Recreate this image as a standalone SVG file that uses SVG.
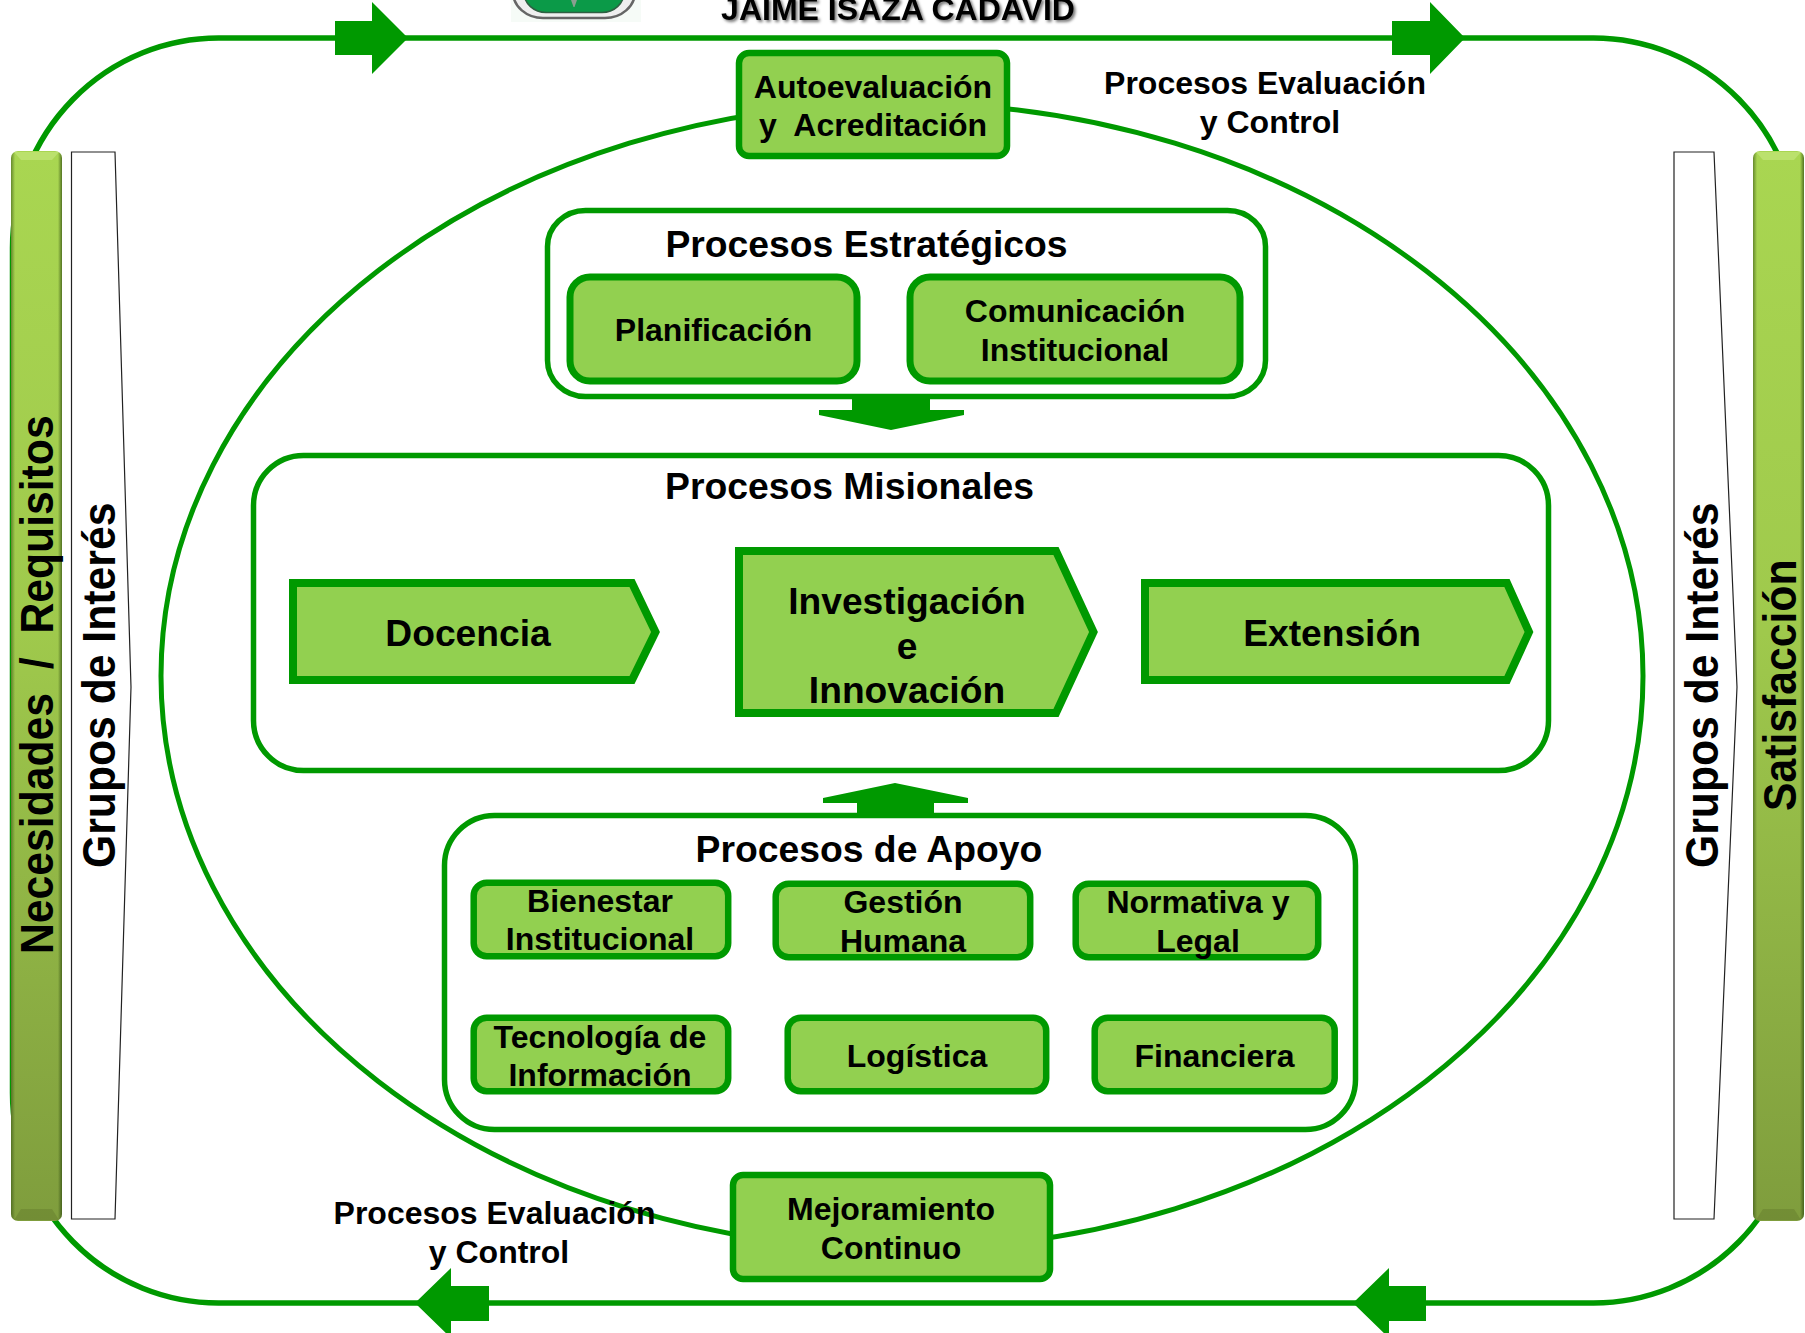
<svg xmlns="http://www.w3.org/2000/svg" width="1805" height="1333" viewBox="0 0 1805 1333">
<style>
text{font-family:"Liberation Sans",Arial,sans-serif;font-weight:bold;fill:#000;text-anchor:middle}
.t32{font-size:32px}
.t37{font-size:37.300px}
.t38{font-size:37.200px}
.t42{font-size:42.700px;text-anchor:start}
.loop{fill:none;stroke:#009900;stroke-width:5.500px}
.arrow{fill:#009900;stroke:none}
.frame{fill:#fff;stroke:#009900;stroke-width:5.500px}
.box{fill:#92D050;stroke:#009900;stroke-width:6.500px}
.thick{fill:#92D050;stroke:#009900;stroke-width:7px}
.penta{fill:#92D050;stroke:#009900;stroke-width:8;stroke-linejoin:miter}
.band{fill:#fff;stroke:#222;stroke-width:1.200px}
</style>
<defs>
<linearGradient id="barV" x1="0" y1="0" x2="0" y2="1">
<stop offset="0" stop-color="#A9D651"/>
<stop offset="0.45" stop-color="#9FC94C"/>
<stop offset="1" stop-color="#7F9D3D"/>
</linearGradient>
<linearGradient id="barEdge" x1="0" y1="0" x2="1" y2="0">
<stop offset="0" stop-color="#2f4a10" stop-opacity="0.55"/>
<stop offset="0.08" stop-color="#2f4a10" stop-opacity="0"/>
<stop offset="0.92" stop-color="#2f4a10" stop-opacity="0"/>
<stop offset="1" stop-color="#2f4a10" stop-opacity="0.7"/>
</linearGradient>
<filter id="soft" x="-5%" y="-30%" width="110%" height="170%">
<feDropShadow dx="2" dy="2" stdDeviation="1.5" flood-color="#000" flood-opacity="0.55"/>
</filter>
</defs>
<rect width="1805" height="1333" fill="#fff"/>

<g id="logo">
<rect x="511" y="-10" width="130" height="32" fill="#f6fbf7"/>
<rect x="513" y="-40" width="122" height="58" rx="30" ry="26" fill="#efefef" stroke="#666" stroke-width="2.500"/>
<rect x="524" y="-40" width="100" height="52.500" rx="22" ry="20" fill="#0b9a48" stroke="#2f5f42" stroke-width="1.500"/>
<polygon points="571,0 577,0 574.500,7 573.500,7" fill="#8a9f90"/>
</g>
<text id="title" class="t32" x="898" y="20" filter="url(#soft)">JAIME ISAZA CADAVID</text>

<g id="connectors">
<rect class="loop" x="12.500" y="38" width="1787" height="1265" rx="206" ry="210"/>
<ellipse class="loop" cx="902" cy="676" rx="741" ry="573" style="stroke-width:5"/>
<polygon class="arrow" points="335,21 372,21 372,2 408,38 372,74 372,55 335,55" id="arrow-top-left"/>
<polygon class="arrow" points="1392,21 1430,21 1430,2 1465,38 1430,74 1430,55 1392,55" id="arrow-top-right"/>
<polygon class="arrow" points="489,1286 451,1286 451,1268 415,1303 451,1338 451,1321 489,1321" id="arrow-bottom-left"/>
<polygon class="arrow" points="1426,1286 1389,1286 1389,1268 1353,1303 1389,1338 1389,1321 1426,1321" id="arrow-bottom-right"/>
</g>

<g id="necesidades">
<rect x="11" y="151" width="51" height="1070" rx="7" fill="url(#barV)"/>
<rect x="11" y="151" width="51" height="1070" rx="7" fill="url(#barEdge)"/>
<polygon points="14,152 59,152 52,160 21,160" fill="#BFE374" opacity="0.8"/>
<polygon points="14,1220 59,1220 52,1209 21,1209" fill="#6F8A33" opacity="0.8"/>
<text class="t42" xml:space="preserve" transform="translate(53,954) rotate(-90) scale(1,1.08)">Necesidades  /  Requisitos</text>
</g>
<g id="grupos-izq">
<polygon class="band" points="71.500,152 115,152 131,687 115,1219 71.500,1219"/>
<text class="t42" transform="translate(115,868) rotate(-90) scale(1,1.08)">Grupos de Interés</text>
</g>
<g id="satisfaccion">
<rect x="1753" y="151" width="51" height="1070" rx="7" fill="url(#barV)"/>
<rect x="1753" y="151" width="51" height="1070" rx="7" fill="url(#barEdge)"/>
<polygon points="1756,152 1801,152 1794,160 1763,160" fill="#BFE374" opacity="0.8"/>
<polygon points="1756,1220 1801,1220 1794,1209 1763,1209" fill="#6F8A33" opacity="0.8"/>
<text class="t42" transform="translate(1796,811) rotate(-90) scale(1,1.08)">Satisfacción</text>
</g>
<g id="grupos-der">
<polygon class="band" points="1674,152 1714,152 1737,687 1714,1219 1674,1219"/>
<text class="t42" transform="translate(1718,868) rotate(-90) scale(1,1.08)">Grupos de Interés</text>
</g>

<g id="autoevaluacion">
<rect class="box" x="739" y="53" width="268" height="103" rx="10"/>
<text class="t32" x="873" y="98">Autoevaluación</text>
<text class="t32" x="873" y="136" xml:space="preserve">y  Acreditación</text>
</g>
<text id="eval-top-1" class="t32" x="1265" y="94">Procesos Evaluación</text>
<text id="eval-top-2" class="t32" x="1270" y="133">y Control</text>

<g id="estrategicos">
<rect class="frame" x="547.500" y="210.500" width="718" height="186" rx="38" ry="36"/>
<text class="t37" x="866.500" y="257">Procesos Estratégicos</text>
</g>
<g id="planificacion">
<rect class="thick" x="570" y="277" width="287" height="104" rx="20"/>
<text class="t32" x="713.500" y="341">Planificación</text>
</g>
<g id="comunicacion">
<rect class="thick" x="910" y="277" width="330" height="104" rx="20"/>
<text class="t32" x="1075" y="322">Comunicación</text>
<text class="t32" x="1075" y="361">Institucional</text>
</g>
<polygon id="arrow-down" class="arrow" points="852,394 930,394 930,410 964,410 964,415 891,430 819,415 819,410 852,410"/>

<g id="misionales">
<rect class="frame" x="253.500" y="455.500" width="1295" height="315" rx="50" ry="50"/>
<text class="t37" x="849.500" y="499">Procesos Misionales</text>
</g>
<g id="docencia">
<polygon class="penta" points="293,583 632,583 655.500,632 632,680 293,680"/>
<text class="t38" x="468" y="646">Docencia</text>
</g>
<g id="investigacion">
<polygon class="penta" points="739,551 1056,551 1093.500,632 1056,713 739,713"/>
<text class="t38" x="907" y="614">Investigación</text>
<text class="t38" x="907" y="659">e</text>
<text class="t38" x="907" y="703">Innovación</text>
</g>
<g id="extension">
<polygon class="penta" points="1145,583 1507,583 1529,632 1507,680 1145,680"/>
<text class="t38" x="1332" y="646">Extensión</text>
</g>
<polygon id="arrow-up" class="arrow" points="857,818 934,818 934,803 968,803 968,798 895,783 823,798 823,803 857,803"/>

<g id="apoyo">
<rect class="frame" x="444.500" y="815.500" width="911" height="314" rx="50" ry="50"/>
<text class="t37" x="869" y="862">Procesos de Apoyo</text>
</g>
<g id="bienestar">
<rect class="box" x="473.700" y="882.700" width="254.500" height="73.500" rx="13"/>
<text class="t32" x="600" y="912">Bienestar</text>
<text class="t32" x="600" y="950">Institucional</text>
</g>
<g id="gestion">
<rect class="box" x="775.700" y="883.700" width="254.500" height="73.500" rx="13"/>
<text class="t32" x="903" y="913">Gestión</text>
<text class="t32" x="903" y="952">Humana</text>
</g>
<g id="normativa">
<rect class="box" x="1075.700" y="883.700" width="242.500" height="73.500" rx="13"/>
<text class="t32" x="1198" y="913">Normativa y</text>
<text class="t32" x="1198" y="952">Legal</text>
</g>
<g id="tecnologia">
<rect class="box" x="473.700" y="1017.700" width="254.500" height="73.500" rx="13"/>
<text class="t32" x="600" y="1048">Tecnología de</text>
<text class="t32" x="600" y="1086">Información</text>
</g>
<g id="logistica">
<rect class="box" x="787.700" y="1017.700" width="258.500" height="73.500" rx="13"/>
<text class="t32" x="917" y="1067">Logística</text>
</g>
<g id="financiera">
<rect class="box" x="1094.700" y="1017.700" width="240" height="73.500" rx="13"/>
<text class="t32" x="1214.500" y="1067">Financiera</text>
</g>
<g id="mejoramiento">
<rect class="box" x="733" y="1175" width="317" height="104" rx="10"/>
<text class="t32" x="891" y="1220">Mejoramiento</text>
<text class="t32" x="891" y="1259">Continuo</text>
</g>
<text id="eval-bottom-1" class="t32" x="494.500" y="1224">Procesos Evaluación</text>
<text id="eval-bottom-2" class="t32" x="499" y="1263">y Control</text>
</svg>
